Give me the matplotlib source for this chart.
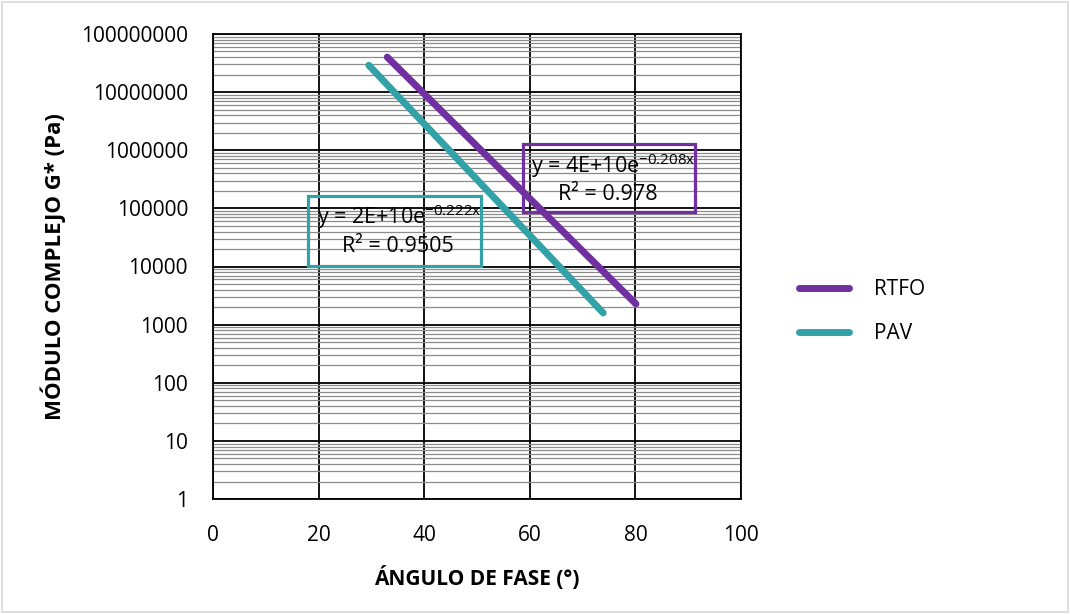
import numpy as np
import matplotlib
matplotlib.use('Agg')
from matplotlib import pyplot as plt
from matplotlib.ticker import FixedLocator, LogLocator, NullFormatter, FuncFormatter
from matplotlib.patches import Rectangle

plt.rcParams['font.family'] = ['Open Sans', 'DejaVu Sans']
plt.rcParams['mathtext.fontset'] = 'custom'
plt.rcParams['mathtext.rm'] = 'Open Sans'

# datos (extremos de cada linea)
rtfo_x = [33.0, 80.1]
rtfo_y = [4.0e7, 2270]
pav_x = [29.5, 73.9]
pav_y = [2.9e7, 1590]

x_ticks = [0, 20, 40, 60, 80, 100]
y_ticks = [1, 10, 100, 1000, 10000, 100000, 1000000, 10000000, 100000000]

purple = '#7030A0'
teal = '#33A1A8'

fig = plt.figure(figsize=(10.7, 6.14), dpi=100)
ax = fig.add_axes([213/1070, 1 - 499/614, 528/1070, 465/614])

ax.set_yscale('log')
ax.set_xlim(0, 100)
ax.set_ylim(1, 1e8)
ax.xaxis.set_major_locator(FixedLocator(x_ticks))
ax.yaxis.set_major_locator(FixedLocator(y_ticks))
ax.yaxis.set_minor_locator(LogLocator(base=10, subs=np.arange(2, 10), numticks=20))
ax.yaxis.set_minor_formatter(NullFormatter())
ax.yaxis.set_major_formatter(FuncFormatter(lambda v, p: '%d' % v))
ax.tick_params(which='both', length=0, labelsize=15)
ax.tick_params(axis='x', pad=19)
ax.tick_params(axis='y', pad=18)

ax.grid(True, which='major', color='black', linewidth=1.3)
ax.grid(True, which='minor', axis='y', color='#8c8c8c', linewidth=0.9)
ax.set_axisbelow(True)
for s in ax.spines.values():
    s.set_color('black')
    s.set_linewidth(1.3)

ax.plot(rtfo_x, rtfo_y, color=purple, linewidth=5, solid_capstyle='round', label='RTFO', zorder=3)
ax.plot(pav_x, pav_y, color=teal, linewidth=5, solid_capstyle='round', label='PAV', zorder=3)

# cajas de las ecuaciones
ax.add_patch(Rectangle((0.587, 0.617), 0.326, 0.146, transform=ax.transAxes,
                       fill=False, edgecolor=purple, linewidth=2.3, zorder=4))
ax.text(531/1070, 1 - 166/614, 'y = 4E+10e$^{\\mathregular{-0.208x}}$', transform=fig.transFigure,
        fontsize=15.5, va='center', ha='left', zorder=5)
ax.text(608/1070, 1 - 195/614, 'R² = 0.978', transform=fig.transFigure,
        fontsize=15.5, va='center', ha='center', zorder=5)

ax.add_patch(Rectangle((0.180, 0.501), 0.328, 0.151, transform=ax.transAxes,
                       fill=False, edgecolor=teal, linewidth=2.3, zorder=4))
ax.text(317/1070, 1 - 217/614, 'y = 2E+10e$^{\\mathregular{-0.222x}}$', transform=fig.transFigure,
        fontsize=15.5, va='center', ha='left', zorder=5)
ax.text(398/1070, 1 - 246/614, 'R² = 0.9505', transform=fig.transFigure,
        fontsize=15.5, va='center', ha='center', zorder=5)

ax.set_xlabel('ÁNGULO DE FASE (°)', fontsize=15, fontweight='bold', labelpad=14)
ax.set_ylabel('MÓDULO COMPLEJO G* (Pa)', fontsize=16, fontweight='bold', labelpad=11)

leg = ax.legend(loc='center left', bbox_to_anchor=(789/1070, 1 - 311.5/614),
                bbox_transform=fig.transFigure, frameon=False, fontsize=15,
                handlelength=2.4, labelspacing=1.1, handletextpad=1.2, borderpad=0)

fig.patches.append(Rectangle((0.002, 0.003), 0.996, 0.994, transform=fig.transFigure,
                             fill=False, edgecolor='#d9d9d9', linewidth=1.2))

fig.savefig('out.png', dpi=100)
